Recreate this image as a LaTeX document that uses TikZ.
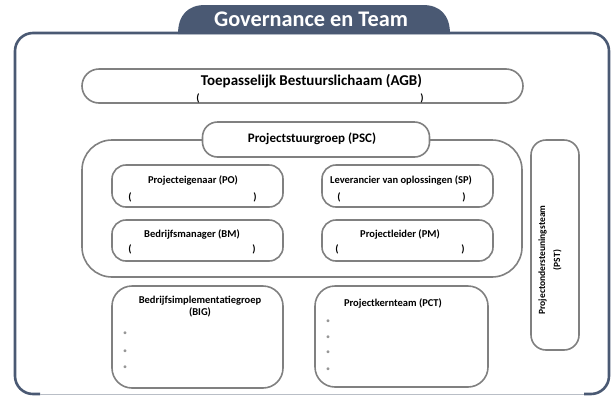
\documentclass[tikz,border=0pt]{standalone}
\usepackage{fontspec}
\setmainfont{Carlito}
\definecolor{navy}{RGB}{74,89,115}
\definecolor{boxgrey}{RGB}{128,128,128}
\definecolor{dotgrey}{RGB}{150,150,150}
\definecolor{edgegrey}{RGB}{185,190,198}
\begin{document}
\begin{tikzpicture}[x=1pt,y=-1pt,
  box/.style={draw=boxgrey, line width=1.6pt, fill=white, rounded corners=#1, inner sep=0pt},
  box/.default=14pt,
  lbl/.style={font=\bfseries\fontsize{10.5}{12}\selectfont, inner sep=0pt, text=black, align=center},
  paren/.style={font=\bfseries\fontsize{10.5}{12}\selectfont, inner sep=0pt, text=black},
  bullet/.style={font=\fontsize{8}{8}\selectfont, inner sep=0pt, text=dotgrey},
  frameline/.style={draw=navy, line width=2.6pt}
]
\useasboundingbox (0,0) rectangle (615,397);
% tab
\fill[navy] (178,34) .. controls (178,15) and (188,5) .. (205,5) -- (423,5) .. controls (440,5) and (450,15) .. (450,34) -- cycle;
\node[font=\bfseries\fontsize{22.3}{24}\selectfont, text=white, inner sep=0pt] (tabtext) at (311,19) {Governance en Team};
% outer frame
\draw[frameline, rounded corners=18pt] (40,394) -- (15,394) -- (15,33) -- (609,33) -- (609,394) -- (584,394);
\draw[edgegrey, line width=1pt] (40,394) -- (584,394);
% AGB
\node[box=17pt, minimum width=441pt, minimum height=34pt] (agb) at (302.5,86) {};
\node[lbl, font=\bfseries\fontsize{15}{17}\selectfont] (agbt) at (311.5,81.5) {Toepasselijk Bestuurslichaam (AGB)};
\node[paren] (agbl) at (198,98.5) {(};
\node[paren] (agbr) at (422,98.5) {)};
% PSC container
\node[box=30pt, minimum width=440pt, minimum height=137pt] (psc) at (302,208.5) {};
\node[box=15pt, minimum width=227pt, minimum height=35pt] (psctop) at (316,139.5) {};
\node[lbl, font=\bfseries\fontsize{13}{15}\selectfont] (psct) at (312,139) {Projectstuurgroep (PSC)};
% PO
\node[box, minimum width=171pt, minimum height=42pt] (po) at (197.5,186) {};
\node[lbl] (pot) at (193,180) {Projecteigenaar (PO)};
\node[paren] (pol) at (130,197) {(};
\node[paren] (por) at (255,197) {)};
% SP
\node[box, minimum width=171pt, minimum height=42pt] (sp) at (407.5,186) {};
\node[lbl] (spt) at (401,180) {Leverancier van oplossingen (SP)};
\node[paren] (spl) at (339,197) {(};
\node[paren] (spr) at (464,197) {)};
% BM
\node[box, minimum width=171pt, minimum height=41pt] (bm) at (197.5,240.5) {};
\node[lbl] (bmt) at (192,234) {Bedrijfsmanager (BM)};
\node[paren] (bml) at (130,249) {(};
\node[paren] (bmr) at (254,249) {)};
% PM
\node[box, minimum width=171pt, minimum height=41pt] (pm) at (407.5,240.5) {};
\node[lbl] (pmt) at (400,234) {Projectleider (PM)};
\node[paren] (pml) at (337,249) {(};
\node[paren] (pmr) at (463,249) {)};
% BIG
\node[box=20pt, minimum width=171pt, minimum height=102pt] (big) at (197.5,337) {};
\node[lbl] (bigt) at (200,307) {Bedrijfsimplementatiegroep\\(BIG)};
\node[bullet] (bigb1) at (125,334) {•};
\node[bullet] (bigb2) at (125,352) {•};
\node[bullet] (bigb3) at (125,368) {•};
% PCT
\node[box=20pt, minimum width=173pt, minimum height=101pt] (pct) at (401.5,336.5) {};
\node[lbl] (pctt) at (393,303) {Projectkernteam (PCT)};
\node[bullet] (pctb1) at (328,322) {•};
\node[bullet] (pctb2) at (328,338) {•};
\node[bullet] (pctb3) at (328,353) {•};
\node[bullet] (pctb4) at (328,370) {•};
% PST
\node[box=15pt, minimum width=48pt, minimum height=210pt] (pst) at (555,245) {};
\node[lbl, rotate=90, font=\bfseries\fontsize{9.5}{15}\selectfont] (pstt) at (550,260) {Projectondersteuningsteam\\(PST)};
\end{tikzpicture}
\end{document}
